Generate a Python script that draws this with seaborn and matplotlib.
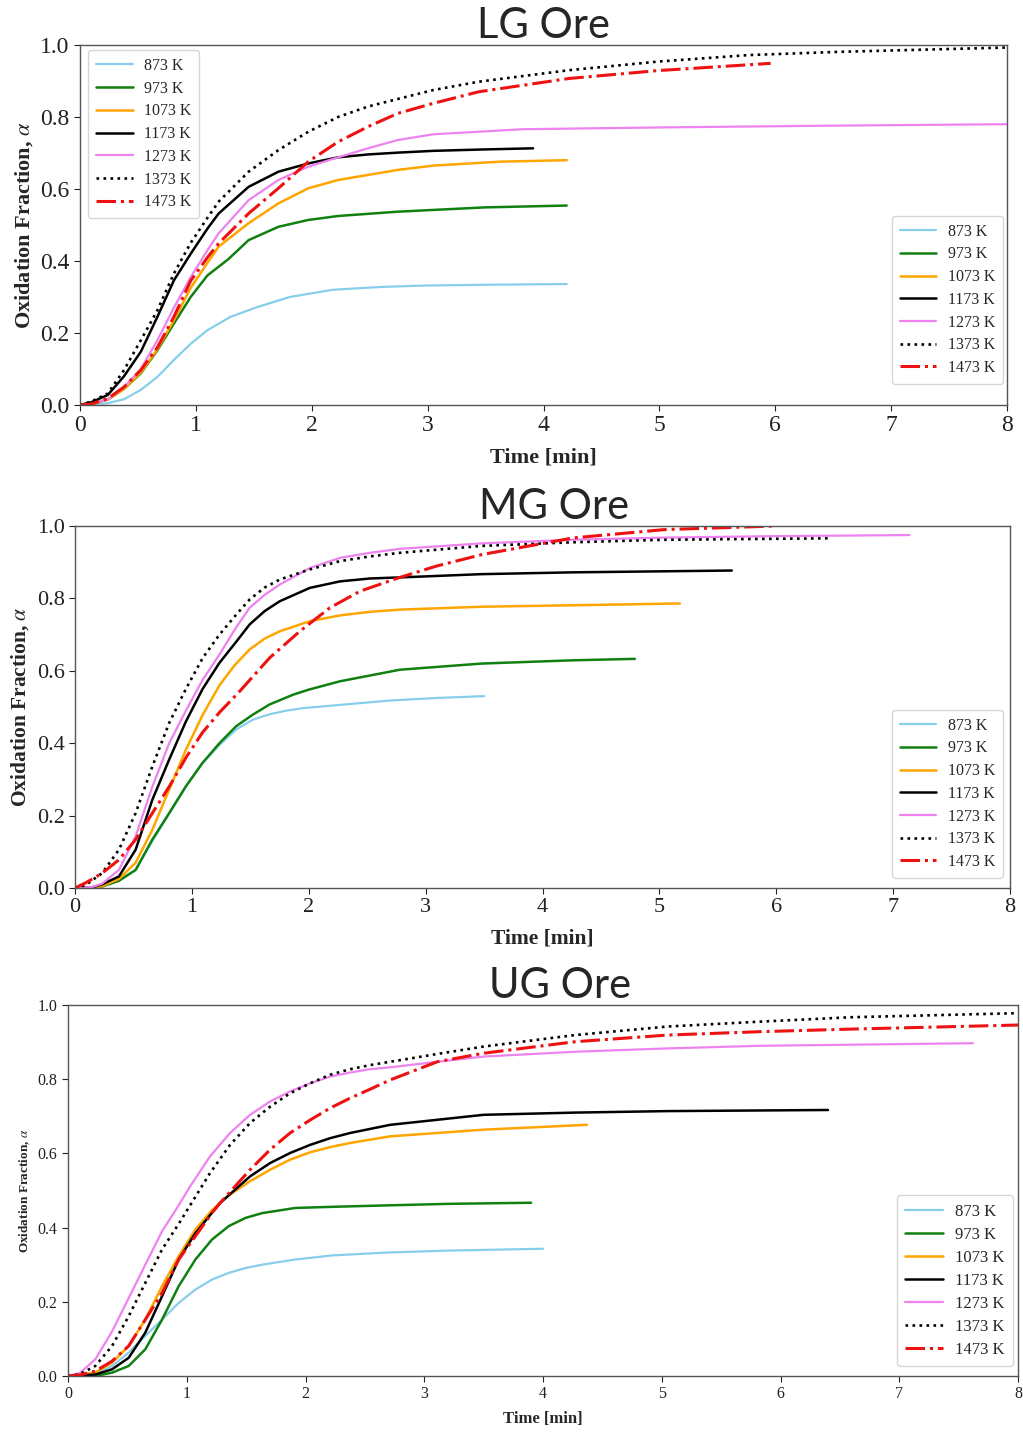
import matplotlib
matplotlib.use("Agg")
import matplotlib.pyplot as plt
import seaborn as sns
import pandas as pd

# ---------------- data ----------------
temps = ["873 K", "973 K", "1073 K", "1173 K", "1273 K", "1373 K", "1473 K"]

# LG ore
LG_873_t = [0, 0.15, 0.24, 0.38, 0.525, 0.668, 0.81, 0.955, 1.10, 1.30, 1.53, 1.81, 2.18, 2.6, 3.0, 3.5, 4.2]
LG_873_a = [0, 0.001, 0.005, 0.016, 0.042, 0.078, 0.125, 0.17, 0.208, 0.245, 0.272, 0.30, 0.32, 0.328, 0.332, 0.334, 0.336]
LG_973_t = [0, 0.1, 0.24, 0.38, 0.525, 0.668, 0.81, 0.955, 1.10, 1.28, 1.455, 1.712, 1.97, 2.227, 2.742, 3.5, 4.2]
LG_973_a = [0, 0.003, 0.015, 0.045, 0.088, 0.152, 0.226, 0.30, 0.36, 0.405, 0.458, 0.495, 0.514, 0.525, 0.537, 0.549, 0.554]
LG_1073_t = [0, 0.1, 0.24, 0.38, 0.525, 0.668, 0.81, 0.955, 1.10, 1.197, 1.455, 1.712, 1.97, 2.227, 2.742, 3.05, 3.63, 4.2]
LG_1073_a = [0, 0.003, 0.015, 0.045, 0.09, 0.155, 0.235, 0.325, 0.395, 0.44, 0.505, 0.56, 0.602, 0.625, 0.653, 0.665, 0.676, 0.68]
LG_1173_t = [0, 0.1, 0.24, 0.38, 0.525, 0.668, 0.81, 0.955, 1.10, 1.197, 1.455, 1.712, 1.97, 2.227, 2.485, 2.742, 3.05, 3.5, 3.91]
LG_1173_a = [0, 0.008, 0.028, 0.08, 0.148, 0.245, 0.346, 0.42, 0.49, 0.532, 0.606, 0.648, 0.671, 0.688, 0.696, 0.701, 0.706, 0.71, 0.713]
LG_1273_t = [0, 0.1, 0.24, 0.38, 0.525, 0.668, 0.81, 0.955, 1.10, 1.197, 1.455, 1.712, 1.97, 2.227, 2.485, 2.742, 3.05, 3.82, 5.0, 6.5, 8.0]
LG_1273_a = [0, 0.003, 0.015, 0.05, 0.10, 0.18, 0.27, 0.355, 0.43, 0.477, 0.569, 0.625, 0.662, 0.688, 0.713, 0.736, 0.752, 0.766, 0.771, 0.776, 0.78]
LG_1373_t = [0, 0.1, 0.24, 0.38, 0.525, 0.668, 0.81, 0.955, 1.10, 1.197, 1.455, 1.712, 1.97, 2.227, 2.485, 2.742, 3.05, 3.44, 4.22, 4.99, 5.77, 6.55, 8.0]
LG_1373_a = [0, 0.01, 0.032, 0.097, 0.18, 0.263, 0.365, 0.45, 0.52, 0.565, 0.648, 0.708, 0.759, 0.80, 0.829, 0.85, 0.875, 0.898, 0.93, 0.954, 0.972, 0.981, 0.993]
LG_1473_t = [0, 0.1, 0.24, 0.38, 0.525, 0.668, 0.81, 0.955, 1.10, 1.197, 1.455, 1.712, 1.97, 2.227, 2.485, 2.742, 3.05, 3.44, 4.22, 4.99, 5.96]
LG_1473_a = [0, 0.003, 0.018, 0.05, 0.097, 0.16, 0.245, 0.345, 0.41, 0.449, 0.532, 0.602, 0.676, 0.731, 0.773, 0.81, 0.838, 0.87, 0.907, 0.929, 0.949]

# MG ore
MG_873_t = [0, 0.15, 0.232, 0.376, 0.519, 0.662, 0.806, 0.949, 1.092, 1.236, 1.379, 1.522, 1.665, 1.809, 1.952, 2.31, 2.70, 3.1, 3.5]
MG_873_a = [0, 0, 0.004, 0.02, 0.05, 0.13, 0.205, 0.28, 0.345, 0.395, 0.438, 0.465, 0.48, 0.49, 0.497, 0.507, 0.518, 0.525, 0.53]
MG_973_t = [0, 0.15, 0.232, 0.376, 0.519, 0.662, 0.806, 0.949, 1.092, 1.236, 1.379, 1.522, 1.665, 1.866, 2.0, 2.267, 2.78, 3.48, 4.26, 4.79]
MG_973_a = [0, 0, 0.004, 0.02, 0.05, 0.134, 0.207, 0.281, 0.346, 0.40, 0.447, 0.479, 0.507, 0.534, 0.548, 0.571, 0.603, 0.62, 0.629, 0.633]
MG_1073_t = [0, 0.15, 0.232, 0.376, 0.519, 0.662, 0.806, 0.949, 1.092, 1.236, 1.365, 1.494, 1.623, 1.751, 2.009, 2.267, 2.524, 2.782, 3.48, 4.26, 5.175]
MG_1073_a = [0, 0, 0.005, 0.025, 0.07, 0.161, 0.272, 0.382, 0.478, 0.56, 0.615, 0.659, 0.689, 0.709, 0.737, 0.753, 0.763, 0.769, 0.777, 0.781, 0.786]
MG_1173_t = [0, 0.15, 0.232, 0.376, 0.519, 0.662, 0.806, 0.949, 1.092, 1.236, 1.379, 1.494, 1.623, 1.751, 2.009, 2.267, 2.524, 2.782, 3.48, 4.26, 5.62]
MG_1173_a = [0, 0.002, 0.01, 0.032, 0.106, 0.244, 0.355, 0.46, 0.55, 0.622, 0.68, 0.728, 0.765, 0.792, 0.829, 0.847, 0.855, 0.858, 0.867, 0.872, 0.877]
MG_1273_t = [0, 0.15, 0.232, 0.376, 0.519, 0.662, 0.806, 0.949, 1.092, 1.236, 1.379, 1.494, 1.623, 1.751, 2.009, 2.267, 2.524, 2.782, 3.48, 4.26, 5.04, 6.0, 7.14]
MG_1273_a = [0, 0.003, 0.012, 0.05, 0.143, 0.28, 0.40, 0.49, 0.575, 0.645, 0.72, 0.774, 0.81, 0.838, 0.884, 0.912, 0.926, 0.937, 0.952, 0.962, 0.968, 0.972, 0.975]
MG_1373_t = [0, 0.09, 0.232, 0.376, 0.519, 0.662, 0.806, 0.949, 1.092, 1.236, 1.379, 1.494, 1.623, 1.751, 2.009, 2.267, 2.524, 2.782, 3.48, 4.26, 5.04, 6.47]
MG_1373_a = [0, 0.008, 0.041, 0.106, 0.207, 0.336, 0.456, 0.55, 0.635, 0.70, 0.755, 0.797, 0.83, 0.852, 0.88, 0.903, 0.916, 0.926, 0.945, 0.955, 0.962, 0.966]
MG_1473_t = [0, 0.09, 0.232, 0.376, 0.519, 0.662, 0.806, 0.949, 1.092, 1.236, 1.408, 1.666, 1.923, 2.18, 2.44, 2.78, 3.09, 3.48, 3.87, 4.26, 5.04, 5.99]
MG_1473_a = [0, 0.014, 0.041, 0.078, 0.134, 0.207, 0.28, 0.36, 0.43, 0.485, 0.543, 0.636, 0.709, 0.774, 0.82, 0.858, 0.889, 0.921, 0.944, 0.967, 0.99, 1.0]

# UG ore
UG_873_t = [0, 0.23, 0.371, 0.511, 0.651, 0.792, 0.932, 1.073, 1.213, 1.354, 1.494, 1.634, 1.915, 2.224, 2.7, 3.2, 4.0]
UG_873_a = [0, 0.005, 0.027, 0.063, 0.108, 0.152, 0.197, 0.233, 0.26, 0.278, 0.291, 0.30, 0.314, 0.325, 0.333, 0.338, 0.343]
UG_973_t = [0, 0.23, 0.371, 0.511, 0.651, 0.792, 0.932, 1.073, 1.213, 1.354, 1.494, 1.634, 1.915, 2.224, 2.7, 3.2, 3.9]
UG_973_a = [0, 0.0, 0.009, 0.027, 0.072, 0.152, 0.242, 0.314, 0.368, 0.404, 0.426, 0.439, 0.453, 0.456, 0.46, 0.464, 0.467]
UG_1073_t = [0, 0.23, 0.371, 0.511, 0.651, 0.792, 0.932, 1.073, 1.213, 1.34, 1.533, 1.702, 1.87, 2.039, 2.207, 2.376, 2.544, 2.713, 3.50, 4.37]
UG_1073_a = [0, 0.009, 0.036, 0.081, 0.152, 0.242, 0.323, 0.395, 0.447, 0.484, 0.525, 0.556, 0.583, 0.603, 0.617, 0.628, 0.637, 0.646, 0.664, 0.677]
UG_1173_t = [0, 0.23, 0.371, 0.511, 0.651, 0.792, 0.932, 1.073, 1.213, 1.28, 1.533, 1.702, 1.87, 2.039, 2.207, 2.376, 2.544, 2.713, 3.50, 4.27, 5.05, 6.4]
UG_1173_a = [0, 0.004, 0.018, 0.049, 0.117, 0.215, 0.314, 0.385, 0.44, 0.466, 0.538, 0.574, 0.601, 0.623, 0.641, 0.655, 0.666, 0.677, 0.704, 0.71, 0.714, 0.717]
UG_1273_t = [0, 0.1, 0.23, 0.371, 0.511, 0.651, 0.792, 0.932, 1.028, 1.196, 1.365, 1.533, 1.702, 1.87, 2.039, 2.207, 2.376, 2.544, 2.713, 3.11, 3.50, 4.27, 5.05, 5.82, 6.59, 7.62]
UG_1273_a = [0, 0.008, 0.045, 0.12, 0.21, 0.30, 0.39, 0.46, 0.511, 0.592, 0.655, 0.704, 0.74, 0.767, 0.789, 0.807, 0.818, 0.827, 0.832, 0.847, 0.861, 0.874, 0.883, 0.89, 0.893, 0.897]
UG_1373_t = [0, 0.1, 0.23, 0.371, 0.511, 0.651, 0.792, 0.932, 1.013, 1.196, 1.365, 1.533, 1.702, 1.87, 2.039, 2.207, 2.376, 2.544, 2.713, 3.11, 3.50, 4.27, 5.05, 5.82, 6.59, 8.0]
UG_1373_a = [0, 0.005, 0.027, 0.081, 0.161, 0.251, 0.341, 0.41, 0.452, 0.547, 0.623, 0.682, 0.726, 0.762, 0.789, 0.812, 0.827, 0.838, 0.847, 0.868, 0.888, 0.919, 0.942, 0.955, 0.967, 0.978]
UG_1473_t = [0, 0.1, 0.23, 0.371, 0.511, 0.651, 0.792, 0.932, 1.073, 1.213, 1.28, 1.533, 1.702, 1.87, 2.039, 2.207, 2.376, 2.544, 2.713, 3.11, 3.50, 4.27, 5.05, 5.82, 6.59, 8.0]
UG_1473_a = [0, 0.003, 0.013, 0.04, 0.081, 0.152, 0.224, 0.314, 0.377, 0.44, 0.466, 0.556, 0.61, 0.655, 0.69, 0.722, 0.749, 0.773, 0.798, 0.847, 0.87, 0.901, 0.919, 0.928, 0.935, 0.946]

panels = {
    "LG Ore": [(LG_873_t, LG_873_a), (LG_973_t, LG_973_a), (LG_1073_t, LG_1073_a), (LG_1173_t, LG_1173_a),
               (LG_1273_t, LG_1273_a), (LG_1373_t, LG_1373_a), (LG_1473_t, LG_1473_a)],
    "MG Ore": [(MG_873_t, MG_873_a), (MG_973_t, MG_973_a), (MG_1073_t, MG_1073_a), (MG_1173_t, MG_1173_a),
               (MG_1273_t, MG_1273_a), (MG_1373_t, MG_1373_a), (MG_1473_t, MG_1473_a)],
    "UG Ore": [(UG_873_t, UG_873_a), (UG_973_t, UG_973_a), (UG_1073_t, UG_1073_a), (UG_1173_t, UG_1173_a),
               (UG_1273_t, UG_1273_a), (UG_1373_t, UG_1373_a), (UG_1473_t, UG_1473_a)],
}
x_ticks = [0, 1, 2, 3, 4, 5, 6, 7, 8]
y_ticks = [0.0, 0.2, 0.4, 0.6, 0.8, 1.0]

# ---------------- style ----------------
colors = ["#87CEEB", "#108010", "#FFA500", "#000000", "#EE82EE", "#000000", "#EE1111"]
lstyles = ["-", "-", "-", "-", "-", ":", "-."]
lwidths = [1.6, 1.8, 1.8, 1.8, 1.6, 1.9, 2.2]

sns.set_style("ticks")
plt.rcParams["font.family"] = ["Liberation Serif", "DejaVu Serif"]
plt.rcParams["mathtext.fontset"] = "stix"
plt.rcParams["lines.solid_capstyle"] = "round"
plt.rcParams["lines.solid_joinstyle"] = "round"

fig = plt.figure(figsize=(10.23, 14.33), dpi=100)

boxes = {
    "LG Ore": [80 / 1023, 1 - 405 / 1433, 927 / 1023, 360 / 1433],
    "MG Ore": [75 / 1023, 1 - 888 / 1433, 935 / 1023, 362 / 1433],
    "UG Ore": [68 / 1023, 1 - 1376 / 1433, 950 / 1023, 371 / 1433],
}
title_x = {"LG Ore": 0.4995, "MG Ore": 0.512, "UG Ore": 0.518}
tick_fs = {"LG Ore": 17, "MG Ore": 16, "UG Ore": 11.5}
lab_fs = {"LG Ore": 16, "MG Ore": 15.5, "UG Ore": 12}
xlab_pad = {"LG Ore": 8, "MG Ore": 8, "UG Ore": 6}
ylab_fs = {"LG Ore": 16, "MG Ore": 15.5, "UG Ore": 9.5}
leg_fs = {"LG Ore": 11.5, "MG Ore": 11.5, "UG Ore": 12}

for name, series in panels.items():
    ax = fig.add_axes(boxes[name])
    for (t, a), lab, c, ls, lw in zip(series, temps, colors, lstyles, lwidths):
        df = pd.DataFrame({"t": t, "a": a})
        sns.lineplot(data=df, x="t", y="a", ax=ax, color=c, linestyle=ls, lw=lw,
                     label=lab, errorbar=None, sort=False)
    ax.set_xlim(0, 8)
    ax.set_ylim(0, 1)
    ax.set_xticks(x_ticks)
    ax.set_yticks(y_ticks)
    ax.set_xticklabels([str(v) for v in x_ticks])
    ax.set_yticklabels([f"{v:.1f}" for v in y_ticks])
    ax.tick_params(direction="out", length=4, width=0.8, labelsize=tick_fs[name], colors="#222222")
    for sp in ax.spines.values():
        sp.set_color("#555555")
        sp.set_linewidth(1.0)
    ax.set_xlabel("Time [min]", fontsize=lab_fs[name], fontweight="bold", labelpad=xlab_pad[name])
    ax.set_ylabel(r"Oxidation Fraction, $\alpha$", fontsize=ylab_fs[name], fontweight="bold")
    ax.set_title(name, fontsize=30, family=["Lato", "DejaVu Sans"], x=title_x[name], pad=3)
    ax.get_legend().remove()
    handles, labels = ax.get_legend_handles_labels()
    leg_kw = dict(fontsize=leg_fs[name], frameon=True, fancybox=True, handlelength=2.3,
                  labelspacing=0.42, handletextpad=0.7, borderpad=0.5, borderaxespad=0)
    if name == "LG Ore":
        leg1 = ax.legend(handles, labels, loc="upper left", bbox_to_anchor=(8 / 927, 1 - 5 / 360), **leg_kw)
        ax.add_artist(leg1)
        ax.legend(handles, labels, loc="lower right", bbox_to_anchor=(923 / 927, 21 / 360), **leg_kw)
    elif name == "MG Ore":
        ax.legend(handles, labels, loc="lower right", bbox_to_anchor=(928 / 935, 10 / 362), **leg_kw)
    else:
        ax.legend(handles, labels, loc="lower right", bbox_to_anchor=(945 / 950, 10 / 371), **leg_kw)

fig.savefig("out.png", dpi=100)
